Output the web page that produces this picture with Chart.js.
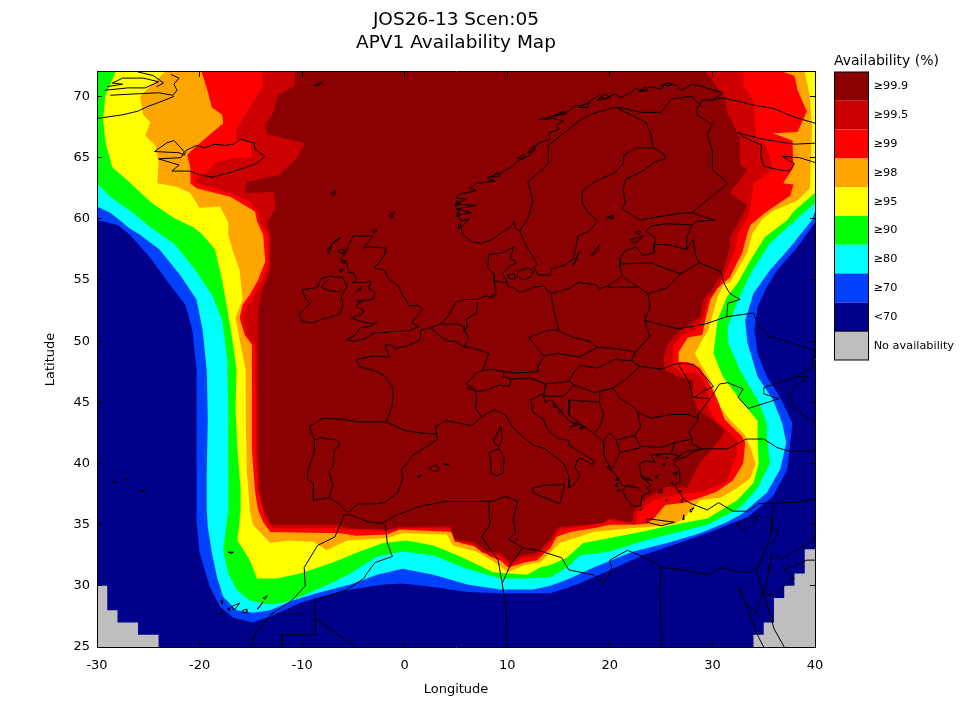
<!DOCTYPE html>
<html>
<head>
<meta charset="utf-8">
<title>APV1 Availability Map</title>
<script src="https://cdn.jsdelivr.net/npm/chart.js@4/dist/chart.umd.min.js"></script>
<style>
  html, body { margin: 0; padding: 0; background: #fff; }
  canvas { display: block; }
</style>
</head>
<body>
<canvas id="map" width="960" height="720"></canvas>
<script>
// Contour outlines, lon/lat
const below70 = [[-30,25],[40,25],[40,72],[-30,72]];
const noDataWest = [[-30,25],[-30,30],[-29,30],[-29,28],[-28,28],[-28,27],[-26,27],[-26,26],[-24,26],[-24,25]];
const noDataEast = [[34,25],[34,26],[35,26],[35,27],[36,27],[36,29],[37,29],[37,30],[38,30],[38,31],[39,31],[39,33],[40,33],[40,25]];

const above70 = [[-30,72],[-30,59.9],[-28,59.5],[-26.8,58.7],[-24.8,56.8],[-22.9,54.6],[-21.4,53],[-20.7,50.9],[-20.3,47.6],[-20.3,43.6],[-20.3,39.5],[-20.3,35.4],[-20,32.7],[-19,29.9],[-18,28.3],[-16.7,27.4],[-14.8,27],[-13.1,27.5],[-10.2,28.6],[-8.6,29],[-5.3,29.7],[-2.1,30.1],[-0.2,30.2],[2.8,29.9],[6.1,29.5],[9.3,29.4],[12.5,29.4],[14.2,29.4],[16.8,30.1],[20,31.3],[23.2,32.5],[27.1,33.6],[30.4,34.6],[33.4,35.6],[35.9,37.3],[37.3,39.5],[37.7,42.5],[37.8,43.3],[36.6,45.4],[35.3,47.1],[34.4,49],[34.1,50.9],[34.4,52.8],[35.3,54.4],[36.3,55.8],[38.3,57.7],[40,59.7],[40,72]];
const above80 = [[-30,72],[-30,61],[-28.7,60.5],[-26.8,59.2],[-25.8,58.7],[-23.9,57.5],[-21.9,55.4],[-20.3,53.4],[-19.7,50.9],[-19.3,47.6],[-19.2,43.6],[-19.3,39.5],[-19.3,36.2],[-19.2,34.8],[-18.8,32.7],[-18.3,30.7],[-17.7,29.1],[-16.4,28],[-14.8,27.8],[-13.1,28],[-10.9,28.8],[-8.6,29.4],[-5.3,30.1],[-2.7,30.9],[-0.2,31.4],[2.8,30.9],[6.1,30.1],[9.3,29.7],[12.5,29.7],[14.2,30],[16.1,30.6],[18.4,31.5],[22.3,32.8],[25.6,33.5],[28.8,34.3],[31.4,35.2],[32.9,35.9],[35.3,37.6],[36.6,39.5],[37.2,41.7],[36.8,43.3],[35.9,45.2],[34.4,47.1],[33.4,49.9],[33.2,51.7],[34,53.9],[35.6,55.8],[37.6,57.7],[39.7,59.9],[40,60.6],[40,72]];
const above90 = [[-30,72],[-30,62.9],[-28.7,61.8],[-26.5,60.5],[-24.8,59.3],[-22.4,57.9],[-20.4,55.8],[-18.8,53.8],[-17.8,51.7],[-17.3,48.5],[-17.2,44.4],[-17.2,40.3],[-17.2,36.2],[-17.7,32.9],[-17.2,31],[-16.4,29.7],[-15.1,28.8],[-13.4,28.5],[-11.9,28.6],[-10.2,29.1],[-7,30.3],[-5.3,31],[-2.7,32.4],[-0.2,32.8],[2.8,32.5],[5.7,31.5],[9.3,30.6],[11.9,30.6],[14.2,30.7],[15.8,31.5],[17.1,32.5],[20,32.8],[23,33.6],[26.2,34.3],[29.5,35],[31.4,35.8],[32.7,36.4],[34.4,38],[35.6,40],[35.3,42.2],[35.3,43.3],[34.4,45.2],[32.7,47.6],[31.5,49.9],[31.5,51.2],[32.5,53.4],[33.9,55.8],[35.6,58],[38.1,59.9],[40,61.3],[40,72]];
const above95 = [[-28.2,72],[-29.2,70],[-29.4,68.2],[-29.2,66.3],[-28.5,64.2],[-27.1,63.2],[-24.8,61.4],[-22.6,60.1],[-20.6,59.3],[-19.7,58.7],[-18.5,57.5],[-17.8,55],[-17.3,52.6],[-16.8,50.1],[-16.4,47.6],[-16.5,44.4],[-16.3,41.1],[-16,37.8],[-16,36.2],[-16.3,33.7],[-15.1,32.1],[-14.4,30.6],[-12.5,30.6],[-10.2,31],[-7,31.9],[-4.4,32.8],[-2.1,33.5],[0.2,33.7],[2.8,33.3],[5.7,32.3],[8.6,31.1],[11.9,30.9],[13.2,31.5],[14.2,31.7],[15.8,32.3],[17.4,33.5],[20,33.9],[23,34.4],[26.2,35],[29.5,35.5],[32.4,37],[34,38.4],[34.5,40],[34.4,42.2],[34.4,43.5],[32.7,45.2],[31,47.1],[30.1,49],[30.5,51.7],[31.4,53.6],[32.5,54.8],[33.7,56.6],[35.1,58.5],[37.3,59.9],[37.9,60.6],[40,62.1],[40,72]];
const above98 = [[-23.4,72],[-25.8,70],[-25.5,68.5],[-24.8,67.9],[-25.3,66.8],[-24.3,66],[-24,64.6],[-24.1,62.9],[-22.2,62.6],[-20.9,62.1],[-20,60.9],[-18,61],[-17.2,59.7],[-17.2,58.7],[-16.8,57.5],[-16.1,55.8],[-15.8,53.4],[-16.5,51.9],[-16,49.7],[-15.5,47.6],[-15.5,43.6],[-15.4,39.5],[-15.1,36.2],[-14.8,35],[-13.1,33.5],[-11.5,33.7],[-8.9,33.6],[-7.6,32.9],[-5.6,33.7],[-1.7,33.9],[-0.2,34.3],[4.1,34.2],[4.7,33.3],[7,32.8],[8.6,32],[10.1,31.1],[11.7,31.7],[13.2,31.9],[14.2,32.7],[15.1,33.5],[18.4,34.4],[22,34.7],[23.9,34.8],[26.4,35.1],[27.3,35.6],[28.8,37],[30.8,37.2],[32.4,38],[33.7,38.8],[34.2,40],[33.7,41.3],[33.2,42.3],[31.7,43.6],[30.5,44.9],[30.1,46.3],[29.6,47.1],[28.8,48.2],[28.3,49],[29,50.1],[29.6,50.9],[30.5,53.6],[31.1,54.6],[31.7,54.8],[32.4,55.8],[33.4,57.2],[33.9,58.8],[34.8,59.9],[35.8,60.6],[38.3,61.5],[39.5,62.5],[39.7,67.4],[39.5,70],[39,72]];
const above99 = [[-19.8,72],[-19.2,70.4],[-18.8,69.1],[-17.8,68.5],[-17.7,67.8],[-19,66.9],[-20.9,65.5],[-21.2,65.2],[-20.9,64.2],[-20.9,62.9],[-20.3,62.5],[-17,61.8],[-14.6,60.6],[-14.4,59.8],[-13.8,58.7],[-13.6,56.5],[-14.3,55],[-15.1,53.8],[-15.8,53],[-16.1,51.9],[-15.6,50.5],[-14.9,49.7],[-14.9,45.2],[-14.9,41.1],[-14.6,37.8],[-14.3,36.2],[-13.8,35.2],[-13.1,34.4],[-6.3,34.3],[-4.7,34.1],[-1.7,34.2],[-0.5,34.6],[4.7,34.4],[5.4,33.5],[7,33.2],[8.3,32.4],[9.3,32.1],[10.1,31.5],[11.7,31.9],[12.9,32.1],[14.2,33.1],[14.8,34],[16.1,34.4],[18.4,34.7],[20,35],[22.3,35],[23.7,35.1],[24.4,35.6],[25.4,36.6],[27.3,36.8],[28.8,37.2],[30.4,37.7],[32,38.6],[33,40],[33.2,41.7],[32.9,42.2],[31.9,43],[31.2,43.6],[30.5,45.2],[29.8,46.4],[28.8,47.8],[27.6,48.3],[26.7,48.3],[26.7,49.1],[27.6,50.3],[29,50.5],[29.3,51.7],[29.8,53.4],[30.5,54.3],[31.1,54.8],[31.7,55.2],[32.4,56.4],[32.9,57.2],[33.4,58.8],[33.7,59.5],[35.3,60.6],[37.6,61.9],[37.9,62.8],[36.9,62.9],[37.9,64.2],[37.8,66.4],[35.9,67],[38.3,67.1],[39.2,68.8],[38.3,70.5],[38,71.7],[36.9,72]];
const above995 = [[-13.9,72],[-13.8,70.9],[-14.8,69.5],[-16.4,67.3],[-16.5,66.5],[-15.1,66.3],[-14.8,65],[-16.7,65],[-18.5,64.6],[-19,64],[-20.3,63.3],[-20.3,62.9],[-17,62.1],[-15.1,61.4],[-14.3,60.6],[-14.1,59.7],[-13.3,58.7],[-13.3,56.2],[-13.9,55],[-14.9,53.4],[-15.6,52.5],[-15.8,51.9],[-15.4,50.5],[-14.6,49.7],[-14.5,45.2],[-14.5,41.1],[-14.3,37.8],[-13.8,36.2],[-13.6,35.4],[-12.9,34.7],[-7,34.7],[-5.6,34.6],[-1.7,34.5],[0.2,34.7],[4.4,34.7],[4.9,33.6],[6.4,33.5],[7.6,32.7],[9.3,32.4],[10.3,31.7],[11.5,32.3],[12.9,32.4],[14.2,33.5],[15.1,34.6],[18.4,35],[19.7,35.4],[21.3,35.2],[22.5,35],[22.7,36],[24.2,37],[26.2,37.4],[29,37.7],[31.4,38.5],[32.4,40.9],[32.4,41.9],[31.4,42.7],[30.2,43.6],[29.5,44.9],[29.6,46],[28.6,47.4],[27,47.4],[26.2,47.9],[26.1,48.7],[26.2,49.7],[27.1,50.5],[28.3,50.9],[29.1,52],[29.6,53.5],[30.5,54.4],[31.4,55.8],[31.7,56.4],[32.2,57.5],[32.5,58.9],[33.4,60],[33.7,60.9],[34,62.9],[35.9,64],[35.3,65.8],[34.2,66.8],[34,69.6],[33,70.9],[33,72]];
const above999 = [[-10.7,72],[-10.7,70.9],[-12.4,70.1],[-12.8,68.7],[-13.6,67.7],[-13.4,66.9],[-9.7,66.2],[-10.5,65],[-12.2,63.6],[-15.4,63],[-15.6,62.1],[-12.8,62.2],[-12.6,60.9],[-13.4,59.7],[-13.1,58.7],[-13.1,55.8],[-13.9,54.2],[-14.3,52.5],[-14.3,49.3],[-14.3,45.2],[-14.3,41.1],[-14.2,37.8],[-13.9,36.6],[-13.1,35],[-6.5,35],[-5.6,34.7],[-1.7,34.6],[-0.5,34.8],[4.4,34.9],[4.9,33.8],[6.7,33.6],[8,32.8],[9.3,32.7],[10.3,31.9],[11.4,32.5],[12.9,32.7],[14.2,33.8],[15,34.8],[19.3,35.1],[20,35.5],[21.3,35.3],[22.2,35.2],[22.3,36],[23.6,37.2],[25.6,38.1],[27.5,38],[28.8,40.1],[30.5,41.7],[31.2,42.7],[30,43.6],[28.6,44.4],[28.1,45.4],[28.1,46.8],[26.6,47.1],[25.4,47.6],[25.2,48.5],[25.6,49.7],[26.6,50.7],[28.8,52],[29.1,53.4],[29.8,54],[31,55.7],[31.3,56.4],[31.7,57.7],[31.7,58.4],[33.4,61.1],[31.7,62.1],[33.4,64],[32.7,64.4],[32.7,66.6],[31.4,68.8],[31.2,69.9],[30,71.3],[29.3,72]];

// Coastlines and islands, lon/lat
const coastlines = [
  // Greenland
  [[-30,68.2],[-27.5,68.5],[-26,68.8],[-25,69.2],[-24,69.5],[-22.5,70]],
  [[-28.7,70.1],[-26.5,70.2],[-24,70.3],[-22.6,70.1],[-22.2,70.5],[-22.5,71],[-22,71.5],[-22.8,71.8]],
  [[-29.3,70.5],[-27,70.7],[-25.3,70.7],[-24.5,71],[-24,71.2],[-25.5,71.5],[-27.5,71.5],[-28.5,71.1],[-27.5,71],[-29,70.8]],
  [[-26,72],[-24.5,71.7],[-23.5,71.1],[-24.2,70.8]],
  // Iceland
  [[-22.7,63.9],[-21,63.9],[-20,63.6],[-18.8,63.4],[-17,63.8],[-15.5,64.2],[-14.5,64.5],[-13.6,65.1],[-14.6,65.7],[-14.7,66.2],[-16,66.5],[-16.7,66.1],[-17.5,66],[-18.5,66.1],[-19.5,65.8],[-20.3,66],[-21.3,65.6],[-21.5,65.2],[-22,65.4],[-24.4,65.5],[-23.2,66.2],[-22.5,66.4],[-21.5,65.5],[-21.8,65],[-24,64.9],[-22,64.4],[-22.7,63.9]],
  [[-8.8,70.9],[-8,71.2],[-8.4,70.9],[-8.8,70.9]],
  [[-7.2,62.1],[-6.7,62.3],[-6.9,61.9],[-7.2,62.1]],
  // Atlantic islands
  [[-25.8,37.8],[-25.2,37.8],[-25.5,37.7],[-25.8,37.8]],
  [[-27.3,38.7],[-27,38.75],[-27.1,38.65],[-27.3,38.7]],
  [[-28.5,38.5],[-28,38.45],[-28.3,38.4],[-28.5,38.5]],
  [[-17.2,32.75],[-16.7,32.75],[-16.9,32.65],[-17.2,32.75]],
  [[-16.9,28.3],[-16.1,28.6],[-16.6,28],[-16.9,28.3]],
  [[-15.8,28],[-15.4,28.1],[-15.4,27.8],[-15.7,27.8],[-15.8,28]],
  [[-14.4,28.1],[-13.8,28.7],[-14.2,28.2],[-14.4,28.1]],
  [[-13.8,29],[-13.4,29.2],[-13.6,28.9],[-13.8,29]],
  [[-17.9,28.7],[-17.8,28.85],[-17.8,28.5],[-17.9,28.7]],
  [[-17.3,28.1],[-17.1,28.2],[-17.1,28],[-17.3,28.1]],
  [[-18.1,27.75],[-17.9,27.8],[-18,27.65],[-18.1,27.75]],
  // British Isles
  [[-5.7,50.1],[-5,50],[-3.8,50.2],[-3,50.7],[-2,50.7],[-1,50.8],[0.3,50.8],[1.4,51.2],[0.7,51.5],[1.7,52.6],[1.3,52.9],[0.4,52.9],[0.2,53.3],[-0.2,53.7],[-0.6,54.5],[-1.5,55],[-2,55.8],[-3,56],[-2.6,56.3],[-2,57],[-1.8,57.6],[-3.5,57.7],[-4,57.6],[-3.1,58.6],[-5,58.6],[-5.5,57.8],[-5.8,57.2],[-6.2,56.7],[-5.6,56.3],[-5.5,55.6],[-5,55.6],[-4.7,55],[-5.1,54.8],[-4,54.8],[-3.3,54.9],[-3.5,54.3],[-2.9,54],[-3.1,53.4],[-4.4,53.3],[-4.7,52.8],[-4,52.5],[-4.2,52.2],[-5.2,51.9],[-4.2,51.6],[-3,51.4],[-2.7,51.6],[-3.3,51.2],[-4.3,51.1],[-5,50.4],[-5.7,50.1]],
  [[-6.3,52.2],[-6,53],[-6.2,53.6],[-5.6,54.5],[-6.1,55.2],[-7.3,55.3],[-8.2,55.1],[-8.5,54.4],[-10,54.2],[-9.7,53.5],[-9.2,53.1],[-10.3,52.2],[-10,51.6],[-9,51.5],[-8,51.8],[-6.3,52.2]],
  [[-7.4,57.1],[-7.1,57.9],[-6.2,58.5],[-6.8,58.2],[-7.5,57.5],[-7.4,57.1]],
  [[-6.6,57.4],[-5.9,57.5],[-6,57.1],[-6.6,57.4]],
  [[-6.3,56.5],[-5.7,56.6],[-5.9,56.3],[-6.3,56.5]],
  [[-6.4,55.8],[-6,55.9],[-6.2,55.6],[-6.4,55.8]],
  [[-1.3,60],[-1,60.6],[-1.5,60.3],[-1.3,60]],
  [[-3.2,59],[-2.7,59.1],[-3,58.8],[-3.2,59]],
  [[-4.7,54.1],[-4.3,54.4],[-4.4,54.1],[-4.7,54.1]],
  [[-4.6,53.3],[-4.1,53.3],[-4.3,53.15],[-4.6,53.3]],
  // Kola, Norway, Sweden, Gulf of Bothnia, Finland, Baltic states, Poland, Germany, Jutland
  [[40.5,67.7],[38,68.3],[36,69],[34,69.3],[33,69.5],[32,69.7],[31,69.9],[30,69.7],[31,70.3],[29,70.8],[28,71],[27,70.5],[26.5,70.9],[25.5,71.1],[25,70.6],[24,70.8],[23,70.4],[22.6,70.7],[22,70.3],[21,69.9],[20.5,70.2],[19.5,69.8],[19,70.1],[18,69.6],[17.5,69.3],[16.5,69.2],[16,68.8],[15,68.5],[13,68.1],[14.5,68.2],[15.5,68],[14.8,67.7],[15,67.3],[14,67],[14.2,66.5],[13,66.2],[12.5,65.6],[12.2,65.2],[11.5,64.9],[11,64.7],[10.5,64.3],[9.5,63.8],[8.8,63.6],[8,63.3],[8.8,63.1],[7,62.9],[6.3,62.5],[7,62.3],[5.3,62],[5,61.7],[6,61.6],[5,61.2],[7,61.1],[5,60.8],[6.5,60.5],[5.2,60.3],[5.5,59.8],[6.3,60],[5.5,59.3],[5.6,58.8],[6.5,58.1],[7.5,58],[8.5,58.3],[9.5,58.9],[10.3,59.3],[10.7,59.8],[10.8,59.2],[11.2,59],[11.5,58.4],[11.9,57.7],[12.5,56.9],[12.9,56.3],[12.6,56],[13,55.4],[14.2,55.4],[14.3,55.9],[15.6,56.2],[16.4,56.7],[16.7,57.7],[16.9,58.6],[18,59],[18.8,59.8],[17.8,60.6],[17.3,61.3],[17.3,62.3],[18.5,63],[20.5,63.8],[21.3,64.5],[21.4,65.2],[22.5,65.8],[24.2,65.8],[25.3,65.3],[25.4,64.9],[24.5,64.7],[23.2,63.9],[21.5,63.2],[21.3,62.4],[21.5,61.3],[21.2,60.8],[22,60.4],[23,59.9],[25,60.2],[26.5,60.4],[28,60.5],[29,60.2],[30.2,59.9],[28.5,59.8],[28,59.5],[25.5,59.6],[24,59.4],[23.5,59],[24.5,58.4],[24.3,57.9],[24.3,57.2],[23.2,57],[22.6,57.7],[21.5,57.4],[21,56.8],[21,56],[21.2,55.3],[20.5,54.9],[19.8,54.5],[19,54.3],[18.6,54.6],[17,54.8],[16,54.3],[14.3,53.9],[13.5,54.5],[12.5,54.4],[11.5,54],[11,54.1],[10.8,54.3],[10,54.5],[9.9,55],[9.5,55.5],[10.3,56.2],[10.9,56.4],[10.3,56.8],[10.6,57.7],[9.5,57.2],[8.2,57.1],[8.1,56],[8.7,55.5],[8.7,54.9],[8.9,54],[8.3,53.6]],
  // Norwegian skerries
  [[14.5,68.4],[15.5,68.8],[15.8,68.6],[14.5,68.4]],
  [[17,69.1],[18,69.5],[17.8,69.1],[17,69.1]],
  [[18.8,69.7],[19.5,70.2],[20,69.9],[18.8,69.7]],
  [[22.8,70.4],[23.5,70.8],[23.7,70.5],[22.8,70.4]],
  [[25,70.9],[25.8,71.1],[26,70.9],[25,70.9]],
  [[11,64.9],[11.6,65.3],[11.8,65],[11,64.9]],
  [[12,65.4],[12.6,66],[12.7,65.6],[12,65.4]],
  [[8.5,63.4],[9,63.8],[9.3,63.5],[8.5,63.4]],
  [[5,60.2],[5.2,60.6],[5.4,60.3],[5,60.2]],
  [[4.9,61],[5.1,61.5],[5.3,61.2],[4.9,61]],
  [[5.2,59.2],[5.3,59.6],[5.5,59.4],[5.2,59.2]],
  // White Sea
  [[40.5,66.2],[38,66.1],[35,66.5],[33,66.9],[32.5,67.1],[33,66.7],[34.8,66],[34.7,65.2],[35,64.3],[36.5,64],[37.5,63.9],[38,64.5],[36.8,65.1],[38.5,65],[40,64.6]],
  // North Sea to Biscay, Iberia, Mediterranean France, Italy, Adriatic, Greece
  [[9,53.9],[8.5,53.5],[8,53.7],[7,53.4],[6,53.4],[5,53.2],[4.8,52.9],[4.2,52],[3.5,51.4],[2.5,51.1],[1.6,50.9],[1.5,50.1],[0.2,49.6],[-1,49.4],[-1.3,49.7],[-1.9,49.7],[-1.5,48.7],[-3,48.8],[-4.7,48.5],[-4.4,47.9],[-3,47.6],[-2,47.2],[-1.2,46.2],[-1.1,45.5],[-1.3,44.5],[-1.8,43.4],[-3,43.4],[-4.5,43.4],[-6,43.6],[-8,43.7],[-9.3,43],[-8.8,42],[-8.8,41],[-9.4,39.5],[-9.5,38.7],[-8.9,38.4],[-8.9,37],[-7.4,37.2],[-6.4,36.7],[-5.6,36],[-4.5,36.7],[-3,36.7],[-2,36.8],[-0.7,37.6],[-0.2,38.7],[-0.3,39.5],[0.8,40.7],[2.2,41.4],[3.2,42],[3,43],[4,43.5],[5.3,43.3],[6.5,43.1],[7.5,43.8],[8.7,44.4],[9.8,44],[10.5,43],[11.2,42.4],[12.5,41.5],[13.7,41.2],[14.4,40.7],[15.5,40],[16,39],[16,38],[16.5,38.3],[17.1,39],[16.6,39.7],[17,40.5],[18.3,39.9],[18.5,40.2],[17,41],[16,41.5],[16,41.9],[15,42],[14,42.7],[13.5,43.6],[12.5,44.2],[12.3,45.2],[13.5,45.7],[13.7,45],[14.3,45.2],[15,44.5],[16,43.5],[17.5,43],[18.5,42.4],[19.4,41.8],[19.4,40.7],[20,39.7],[20.7,38.9],[21.2,38.2],[22.8,38],[21.7,38.2],[21.2,37.8],[21.7,37],[22.3,36.5],[23,36.5],[23.1,37.3],[24,37.7],[23.6,38],[24,38.2],[23,39],[22.9,40],[23.5,40.2],[24.4,40.1],[24,40.7],[26,40.8],[26.8,40.6],[26.2,40.3],[27.5,41],[29,41.2]],
  // Turkey, Levant, Egypt, North Africa, Atlantic Morocco
  [[29,41.2],[28,40.9],[27.3,40.5],[26.7,40.4],[26.2,40],[26.8,39.5],[26.8,38.5],[26.3,38.2],[27.3,37],[28,36.7],[29.5,36.2],[30.6,36.8],[32,36.1],[33.5,36.1],[34.5,36.7],[36,36.8],[35.8,35.7],[35.8,34.5],[35.2,33],[34.5,31.5],[33.5,31.1],[32.3,31.2],[30.9,31.5],[29.7,30.9],[27,31.3],[25.1,31.5],[23.2,32.4],[21.7,32.9],[20,32.1],[20.2,31.3],[19.3,30.2],[18.4,30.9],[16,31.3],[15.3,32.3],[13,32.9],[11.5,33.1],[10.1,33.8],[10.8,34.3],[10.6,35.5],[11,36.9],[10.2,37.2],[9.8,37.3],[8.5,36.9],[6.5,36.9],[4,36.9],[1.5,36.5],[-1,35.7],[-2.2,35.1],[-3.5,35.2],[-5.3,35.8],[-5.9,35.8],[-6.8,34],[-8.5,33.3],[-9.8,31.5],[-9.7,30],[-11,28.8],[-13,27.7],[-14.5,26.2],[-15,25]],
  // Black Sea
  [[29,41.2],[28,41.6],[28,42],[27.7,42.6],[28.6,43.5],[28.6,44],[29.7,45.2],[30.7,46.5],[31.5,46.6],[33,46.1],[32.5,45.4],[33.5,44.5],[35.4,45],[36.5,45.3],[35,45.7],[35,46.2],[36.8,46.7],[38.2,47.1],[39.3,47.1],[38,46.2],[37.5,45.4],[38.2,44.4],[39.7,43.5],[41.5,42.5]],
  [[29,41.2],[31.5,41.2],[33.3,42],[35,42],[36.3,41.3],[37.5,41],[39.5,41],[41.5,41.5]],
  // Red Sea and Sinai
  [[32.5,29.9],[33,29],[33.5,28],[33.9,27],[34.5,25.8],[35,25]],
  [[32.6,29.9],[33.2,28.5],[34.3,27.8],[34.9,29.5],[35.5,28],[36,26.5],[37,25]],
  [[35.4,31.2],[35.5,31.7],[35.6,31.2],[35.4,31.2]],
  // Mediterranean islands
  [[32.3,35],[33,35.4],[34.5,35.7],[33.9,35],[33,34.6],[32.3,35]],
  [[23.6,35.5],[24.5,35.4],[26.3,35.2],[25,34.9],[23.6,35.2],[23.6,35.5]],
  [[12.5,38],[13.5,38.2],[15.6,38.3],[15.1,36.7],[14,37.1],[12.5,37.6],[12.5,38]],
  [[8.2,40.9],[9.2,41.2],[9.7,40.5],[9.6,39.2],[9,39],[8.4,39.2],[8.4,40.3],[8.2,40.9]],
  [[8.7,42],[9.4,43],[9.5,42],[9.2,41.4],[8.7,41.7],[8.7,42]],
  [[2.4,39.6],[3.1,39.9],[3.4,39.6],[3,39.3],[2.4,39.6]],
  [[3.8,40],[4.3,39.9],[3.9,39.9],[3.8,40]],
  [[1.2,38.9],[1.6,39.05],[1.5,38.9],[1.2,38.9]],
  [[26.2,39.2],[26.6,39.3],[26.4,39],[26.2,39.2]],
  [[26,38.4],[26.1,38.5],[26.1,38.3],[26,38.4]],
  [[26.7,37.75],[27,37.75],[26.8,37.65],[26.7,37.75]],
  [[27.8,36.2],[28.2,36.4],[27.9,36],[27.8,36.2]],
  [[23,39],[24.2,38.6],[23.3,38.7],[23,39]],
  [[20.5,38.2],[20.7,38.4],[20.7,38.1],[20.5,38.2]],
  [[25.4,37],[25.6,37.1],[25.5,36.9],[25.4,37]],
  [[25.1,39.9],[25.4,40],[25.3,39.8],[25.1,39.9]],
  [[14.5,44.9],[14.8,44.6],[14.5,44.6],[14.5,44.9]],
  [[16.4,43.3],[17,43.2],[16.6,43.1],[16.4,43.3]],
  [[10.8,33.9],[11.05,33.8],[10.9,33.7],[10.8,33.9]],
  [[24.7,37.6],[25,37.9],[25.1,37.6],[24.7,37.6]],
  [[26.9,37],[27.1,37.1],[27,36.8],[26.9,37]],
  [[27.1,35.4],[27.2,35.8],[27.2,35.4],[27.1,35.4]],
  [[22.9,36.2],[23.1,36.3],[23,36.15],[22.9,36.2]],
  [[19.7,39.7],[20,39.8],[20.1,39.4],[19.7,39.7]],
  [[20.6,38.6],[20.7,38.85],[20.75,38.6],[20.6,38.6]],
  [[20.7,37.8],[21,37.9],[20.9,37.7],[20.7,37.8]],
  [[24.5,40.7],[24.8,40.8],[24.7,40.55],[24.5,40.7]],
  [[25.4,40.45],[25.7,40.5],[25.6,40.4],[25.4,40.45]],
  [[24.4,38.9],[24.7,39],[24.6,38.8],[24.4,38.9]],
  [[17,42.9],[17.6,43],[17.3,42.8],[17,42.9]],
  [[16.1,43],[16.5,43.1],[16.3,42.9],[16.1,43]],
  [[15,44.3],[15.3,44.4],[15.1,44.1],[15,44.3]],
  // Baltic islands
  [[11,55.7],[12,56],[12.6,55.7],[12.2,55.2],[11.5,55],[11,55.3],[11,55.7]],
  [[10,55.4],[10.7,55.5],[10.8,55.1],[10.2,55.1],[10,55.4]],
  [[18.2,57],[19,57.9],[18.8,57.4],[18.3,57],[18.2,57]],
  [[16.4,56.2],[17,57.3],[16.6,56.4],[16.4,56.2]],
  [[22,58.3],[23.3,58.6],[22.5,58],[22,58.3]],
  [[22.4,58.9],[23,59],[22.9,58.7],[22.4,58.9]],
  [[19.7,60.1],[20.3,60.3],[20.3,60],[19.7,60.1]]
];

// Country borders, lon/lat
const borders = [
  [[-7.4,55.05],[-7.9,54.7],[-8.1,54.4],[-7.3,54.1],[-6.3,54.05]],
  [[-8.8,41.9],[-8.2,42.1],[-6.6,41.9],[-6.3,41.6],[-6.9,41],[-7,39.7],[-7.4,39.4],[-7,38.2],[-7.4,37.2]],
  [[-1.8,43.4],[0,42.7],[1.5,42.5],[3.2,42.4]],
  [[2.5,51.1],[3.3,50.5],[4.2,50],[4.9,50],[5.8,49.5],[6.4,49.5],[8.2,49],[7.6,47.6],[7,47.4],[6,46.5],[6.9,46],[7,45.3],[6.9,44.5],[7.5,43.8]],
  [[3.4,51.4],[4.3,51.4],[5,51.4],[5.8,51.2],[5.8,50.8]],
  [[6,50.7],[6.2,50.2],[5.8,49.5]],
  [[7.1,53.2],[7,52.3],[6,51.8],[6.1,51.2],[5.8,50.8],[6,50.7]],
  [[8.7,54.9],[9.9,54.8]],
  [[14.3,53.9],[14.4,53],[14.7,52],[15,51],[14.8,50.9]],
  [[14.8,50.9],[14,50.9],[12.1,50.3],[13.5,48.8]],
  [[13.5,48.6],[13,48],[13,47.5],[11,47.4],[9.7,47.5]],
  [[7.6,47.6],[8.5,47.7],[9.7,47.5],[9.6,47.1],[10.4,46.9],[10.2,46.3],[9.2,46.4],[8.5,46.2],[8,46],[7,45.9],[6,46.2]],
  [[10.4,46.9],[12.2,47],[13.7,46.5],[15,46.6],[16,46.7],[16.5,47.5],[17.1,48]],
  [[13.7,46.5],[13.6,45.6]],
  [[13.5,48.8],[15,49],[17,48.7],[18.8,49.5]],
  [[14.8,50.9],[16.5,50.3],[18,50],[18.8,49.5],[20.5,49.4],[22.5,49.1],[23.9,50.4],[23.4,51.7],[23.9,52.8],[23.7,53.9],[22.8,54.4],[19.8,54.4]],
  [[17.1,48],[18.8,47.8],[20.5,48.5],[22.1,48.4],[22.5,49.1]],
  [[22.1,48.4],[22.9,47.95],[25,47.7],[26.6,48.2],[28.2,48.1],[29.3,47.1],[30.1,46.3],[29.1,45.9],[28.2,45.4],[29.7,45.3]],
  [[26.6,48.2],[27.7,46.7],[28.1,45.4]],
  [[22.9,47.95],[21.6,46.9],[20.3,46.15],[21,45.3],[22.5,44.5],[22.7,44.2],[24,43.7],[26,44],[27.7,44],[28.6,43.7]],
  [[22.7,44.2],[23,43],[22.4,42.3],[23,41.4],[25,41.3],[26.3,41.7],[28,42]],
  [[26.3,41.7],[26,40.8]],
  [[21,40.9],[23,41.3]],
  [[21,40.9],[20.3,39.7]],
  [[21,40.9],[20.6,41.9],[22.4,42.3]],
  [[19.4,41.9],[20,42.5],[20.6,41.9]],
  [[19,44.9],[19.4,44],[19,43],[18.5,42.5]],
  [[16,45.2],[19,45],[19,45.9],[20.3,46.15]],
  [[16,45.2],[16,44],[17.5,43]],
  [[13.6,45.5],[15.5,45.5],[16.5,46.4],[18.5,45.8],[19,45.9]],
  [[16,46.8],[16.5,46.4]],
  [[22.8,54.4],[21.3,55.2]],
  [[23.7,53.9],[25.5,54.3],[26.9,55.5]],
  [[21,56.3],[24,56.4],[26.9,55.5],[28.7,56.4],[28.4,56.9],[28.1,58.3],[27.5,57.5]],
  [[24.4,57.9],[25.5,57.9],[27.5,57.5],[27.5,58.5],[28,59.5]],
  [[28.7,56.4],[30.8,55.7],[31.2,54.6],[31.7,53.9],[32.7,53.4],[31.5,53.1],[31.4,52],[34,52.3],[34.4,51.4],[35.6,50.4],[37.6,49.9],[40,49.2]],
  [[23.4,51.7],[26.6,51],[29.3,51.4],[31.4,52]],
  [[40,49.2],[39.7,47.8],[38.2,47.1]],
  [[28,60.5],[31.5,62.9],[30,64],[30,65.5],[29.5,66.9],[30,67.7],[28.5,68.5],[28.5,69],[29,69.7],[30,69.7]],
  [[29,69.1],[28,70],[26,69.8],[25,68.7],[23,68.7],[21,69.1],[20.6,69.1]],
  [[20.6,69.1],[23.5,67.9],[24,66.9],[24.2,65.8]],
  [[11.2,59],[12,60],[12.5,61.5],[12,63],[14,64.5],[14,66],[15.5,67],[17,68],[18,68.5],[20,69],[20.6,69.1]],
  [[36.1,36.7],[36.7,36.8],[38,36.8],[40,37.1]],
  [[35.7,34.6],[36.5,34.5],[35.6,33.2]],
  [[35.8,32.7],[36.8,32.2],[39.2,33.4],[40,34]],
  [[35,29.5],[35.5,31],[35.8,32.7]],
  [[35,29.4],[36,29.2],[37,30],[38,30.6],[37,31.3],[39.2,32.1],[40,32.1]],
  [[34.3,31.3],[34.9,29.5]],
  [[25,31.6],[24.9,30],[25,25]],
  [[8.2,36.9],[8.3,35],[7.5,34],[9.1,32.1],[9.5,30.2],[9.9,28],[10,25]],
  [[11.5,33.1],[10.3,31.7],[9.5,30.2]],
  [[-1.9,35],[-1.7,33.5],[-1.2,32.4],[-2.9,31.9],[-3.7,31],[-4,30.6],[-5.6,29.7],[-8.2,29],[-8.7,28.7],[-8.7,26],[-12,26],[-12,25]],
  [[-8.7,27.3],[-4.8,25]]
];
const dashedBorders = [[[-13.1,27.7],[-8.7,27.7]]];

// Legend and axis labels
const legendLabels = ["≥99.9","≥99.5","≥99","≥98","≥95","≥90","≥80","≥70","<70","No availability"];
const legendColors = ["#8b0000","#cc0000","#ff0000","#ffa500","#ffff00","#00ff00","#00ffff","#0040ff","#00008b","#bebebe"];
const lonTicks = [-30,-20,-10,0,10,20,30,40];
const latTicks = [25,30,35,40,45,50,55,60,65,70];

const FONT = "'DejaVu Sans', sans-serif";

// bands drawn low to high, lines on top
const shapes = [
  [below70, legendColors[8]], [noDataWest, legendColors[9]], [noDataEast, legendColors[9]],
  [above70, legendColors[7]], [above80, legendColors[6]], [above90, legendColors[5]],
  [above95, legendColors[4]], [above98, legendColors[3]], [above99, legendColors[2]],
  [above995, legendColors[1]], [above999, legendColors[0]]
];
const datasets = shapes.map(([pts, color], i) => ({
  data: pts, showLine: true, fill: "shape", backgroundColor: color,
  borderWidth: 0, pointRadius: 0, order: 100 - i
}));
function lineSet(pts, dash) {
  return { data: pts, showLine: true, fill: false, borderColor: "#000", borderWidth: 1,
           borderDash: dash, pointRadius: 0, order: 0 };
}
coastlines.concat(borders).forEach(p => datasets.push(lineSet(p, [])));
dashedBorders.forEach(p => datasets.push(lineSet(p, [3, 3])));

// gnuplot style inward ticks on all four sides
function axis(position, ticks, limits, extra) {
  return Object.assign({
    type: "linear", position: position, min: limits[0], max: limits[1],
    afterBuildTicks: s => { s.ticks = ticks.map(v => ({ value: v })); },
    grid: { drawOnChartArea: false, drawTicks: true, tickLength: -5, color: "#000", z: 1 },
    border: { display: true, color: "#000", width: 1, z: 1 },
    ticks: { display: false }
  }, extra);
}

// black outline round the legend colour stack
const legendFrame = {
  id: "legendFrame",
  afterDraw(chart) {
    const boxes = chart.legend.legendHitBoxes, c = chart.ctx;
    const top = boxes[0].top, h = boxes[9].top + boxes[9].height - top;
    c.save();
    c.strokeStyle = "#000";
    c.lineWidth = 1;
    c.strokeRect(boxes[0].left + 0.5, top, 34, h);
    c.beginPath();
    c.moveTo(boxes[0].left, boxes[9].top);
    c.lineTo(boxes[0].left + 34, boxes[9].top);
    c.stroke();
    c.restore();
  }
};

new Chart(document.getElementById("map"), {
  type: "scatter",
  data: { datasets: datasets },
  plugins: [legendFrame],
  options: {
    responsive: false,
    animation: false,
    devicePixelRatio: 1,
    layout: { padding: { right: 6 } },
    events: [],
    plugins: {
      tooltip: { enabled: false },
      title: {
        display: true, fullSize: false,
        text: ["JOS26-13 Scen:05", "APV1 Availability Map"],
        color: "#000",
        font: { family: FONT, size: 18.5, weight: "normal", lineHeight: 1.243 },
        padding: { top: 8.5, bottom: 17.5 }
      },
      legend: {
        display: true, position: "right", align: "start", maxWidth: 120,
        title: {
          display: true, position: "start", text: "Availability (%)", color: "#000",
          font: { family: FONT, size: 14 }, padding: { top: 54.5, bottom: 0.7 }
        },
        labels: {
          boxWidth: 34, boxHeight: 28.8, padding: 0, color: "#000",
          font: { family: FONT, size: 11.3 },
          generateLabels: () => legendLabels.map((t, i) => ({
            text: t, fillStyle: legendColors[i], strokeStyle: legendColors[i],
            lineWidth: 0, hidden: false, index: i
          }))
        }
      }
    },
    scales: {
      x: axis("bottom", lonTicks, [-30, 40], {
        afterFit: s => { s.height = 73; },
        ticks: { display: true, color: "#000", padding: 16, maxRotation: 0, autoSkip: false,
                 font: { family: FONT, size: 13 } },
        title: { display: true, text: "Longitude", color: "#000",
                 font: { family: FONT, size: 13 }, padding: { top: 4, bottom: 23 } }
      }),
      y: axis("left", latTicks, [25, 72], {
        afterFit: s => { s.width = 97; },
        ticks: { display: true, color: "#000", padding: 12, autoSkip: false,
                 font: { family: FONT, size: 13 } },
        title: { display: true, text: "Latitude", color: "#000",
                 font: { family: FONT, size: 13 }, padding: { top: 43, bottom: 4 } }
      }),
      x2: axis("top", lonTicks, [-30, 40], { axis: "x", afterFit: s => { s.height = 0; } }),
      y2: axis("right", latTicks, [25, 72], { axis: "y", afterFit: s => { s.width = 19; } })
    }
  }
});
</script>
</body>
</html>
